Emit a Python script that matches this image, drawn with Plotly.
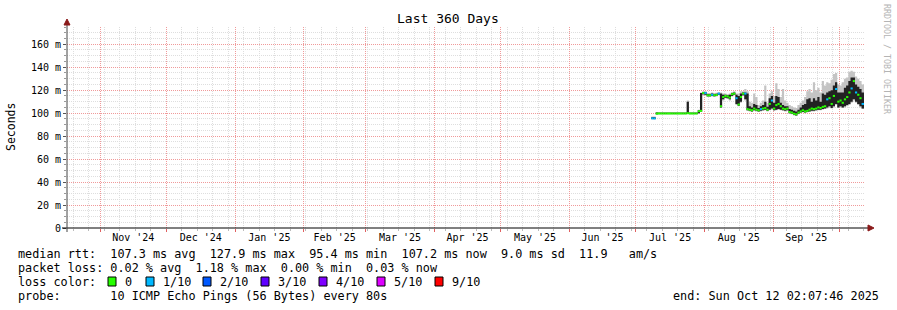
import plotly.graph_objects as go
import pandas as pd

# ---------------- data (in ms) ----------------
START = "2024-10-17 02:07:46"
END = "2025-10-12 02:07:46"
FIRST_DAY = "2025-07-08"

median = [
    95.5, 95.4, 99.6, 99.7, 99.7, 99.7, 99.7, 99.7,      # Jul 08-15
    99.7, 99.7, 99.7, 99.7, 99.7, 99.7, 99.7, 99.7,      # Jul 16-23
    100.0, 99.7, 99.7, 99.7, 99.7, 101.7, 102.0, 117.5,  # Jul 24-31
    117.5, 115.5, 115.5, 116.0, 115.6, 115.8, 117.0, 106.0,  # Aug 01-08
    114.0, 115.0, 114.5, 113.5, 116.5, 117.0, 113.0, 107.5,  # Aug 09-16
    114.0, 117.0, 117.0, 103.5, 103.0, 102.5, 104.0, 103.0,  # Aug 17-24
    102.5, 103.5, 104.0, 104.5, 103.0, 108.0, 111.0, 104.0,  # Aug 25-Sep 01
    107.0, 108.0, 106.0, 104.0, 103.5, 104.0, 101.0, 100.5,  # Sep 02-09
    99.5, 99.0, 100.5, 101.5, 102.5, 101.5, 102.0, 103.0,    # Sep 10-17
    104.0, 103.5, 104.0, 105.0, 104.5, 105.5, 106.0, 112.0,  # Sep 18-25
    113.0, 108.0, 115.0, 121.0, 110.0, 111.0, 109.0, 112.0,  # Sep 26-Oct 03
    114.0, 118.0, 121.5, 127.9, 118.0, 116.0, 113.0, 108.0,  # Oct 04-11
]
dense_lo = [
    95.0, 95.0, 99.0, 99.2, 99.2, 99.2, 99.2, 99.2,
    99.2, 99.2, 99.2, 99.2, 99.2, 99.2, 99.2, 99.2,
    99.2, 99.2, 99.2, 99.2, 99.2, 100.0, 101.5, 116.5,
    116.0, 114.8, 114.8, 115.0, 114.8, 115.0, 116.0, 105.0,
    112.0, 113.5, 113.0, 112.0, 115.0, 116.0, 108.0, 106.5,
    110.0, 115.5, 112.0, 102.5, 102.0, 101.5, 102.5, 102.0,
    101.5, 102.0, 102.5, 103.0, 102.0, 103.0, 104.0, 102.5,
    103.0, 103.5, 103.0, 102.5, 102.0, 102.5, 100.0, 99.5,
    98.5, 98.0, 99.5, 100.5, 101.0, 100.5, 101.0, 101.5,
    102.0, 102.0, 102.5, 103.0, 103.0, 103.5, 104.0, 105.0,
    106.0, 104.5, 106.0, 108.0, 105.0, 106.0, 105.0, 106.0,
    107.0, 108.0, 110.0, 112.0, 110.0, 108.0, 106.0, 104.0,
]
dense_hi = [
    96.5, 96.5, 100.5, 100.3, 100.3, 100.3, 100.3, 100.3,
    100.3, 100.3, 100.3, 100.3, 100.3, 100.3, 100.3, 100.3,
    110.0, 100.3, 100.3, 100.3, 100.3, 102.5, 117.5, 118.0,
    118.5, 116.5, 116.5, 117.0, 116.5, 116.8, 117.5, 117.0,
    116.0, 116.0, 115.5, 116.0, 117.5, 118.0, 116.0, 115.0,
    117.0, 118.0, 118.0, 117.0, 106.0, 105.0, 108.0, 107.0,
    104.5, 106.0, 107.0, 110.0, 105.5, 113.0, 115.0, 109.0,
    115.0, 114.0, 109.0, 107.0, 106.0, 106.0, 103.5, 103.0,
    102.0, 101.5, 103.0, 105.0, 107.0, 108.0, 112.0, 113.0,
    110.0, 113.0, 111.0, 114.0, 110.0, 117.0, 116.0, 118.0,
    119.0, 120.0, 124.0, 127.0, 118.0, 118.0, 118.0, 122.0,
    124.0, 128.0, 131.0, 131.0, 125.0, 123.0, 121.0, 118.0,
]
smoke_lo = [
    94.5, 94.5, 98.5, 98.8, 98.8, 98.8, 98.8, 98.8,
    98.8, 98.8, 98.8, 98.8, 98.8, 98.8, 98.8, 98.8,
    99.0, 98.8, 98.8, 98.8, 98.8, 99.5, 101.0, 115.5,
    115.5, 114.0, 114.0, 114.5, 114.0, 114.5, 115.5, 104.5,
    111.0, 113.0, 112.5, 111.0, 114.5, 115.5, 107.0, 106.0,
    109.0, 115.0, 111.0, 102.0, 101.5, 101.0, 102.0, 101.5,
    101.0, 101.5, 102.0, 102.5, 101.5, 102.5, 103.0, 102.0,
    102.5, 103.0, 102.5, 102.0, 101.5, 102.0, 99.5, 99.0,
    98.0, 97.5, 99.0, 100.0, 100.5, 100.0, 100.5, 101.0,
    101.5, 101.5, 102.0, 102.5, 102.5, 103.0, 103.5, 104.0,
    105.0, 104.0, 105.0, 107.0, 104.5, 105.0, 104.5, 105.0,
    106.0, 107.0, 109.0, 111.0, 109.0, 107.0, 105.0, 103.5,
]
smoke_hi = [
    97.0, 97.0, 101.0, 101.0, 101.0, 101.0, 101.0, 101.0,
    101.0, 101.0, 101.0, 101.0, 101.0, 101.0, 101.0, 101.0,
    111.0, 101.0, 101.0, 101.0, 101.0, 103.0, 118.0, 119.0,
    119.0, 117.5, 117.5, 118.0, 117.5, 117.8, 118.5, 118.0,
    117.0, 117.0, 116.5, 117.0, 118.5, 119.0, 117.0, 117.0,
    119.0, 119.0, 121.0, 119.0, 110.0, 109.0, 117.0, 114.0,
    107.0, 109.0, 111.0, 124.0, 109.0, 117.0, 119.0, 115.0,
    126.0, 121.0, 114.0, 121.0, 111.0, 109.0, 107.0, 106.0,
    105.0, 104.5, 107.0, 109.0, 111.0, 114.0, 119.0, 121.0,
    118.0, 127.0, 120.0, 122.0, 118.0, 128.0, 124.0, 127.0,
    126.0, 129.0, 134.0, 135.0, 125.0, 124.0, 127.0, 130.0,
    131.0, 136.0, 137.0, 136.0, 132.0, 130.0, 128.0, 125.0,
]
loss = [
    1, 1, 0, 0, 0, 0, 0, 0,
    0, 0, 0, 0, 0, 0, 0, 0,
    0, 0, 0, 0, 0, 0, 0, 0,
    1, 0, 0, 1, 0, 0, 1, 0,
    0, 0, 0, 0, 0, 0, 1, 0,
    0, 0, 1, 0, 0, 0, 0, 0,
    0, 1, 0, 0, 0, 0, 1, 0,
    0, 0, 0, 0, 0, 0, 0, 0,
    0, 0, 0, 0, 0, 0, 0, 0,
    0, 0, 0, 0, 0, 0, 0, 1,
    0, 0, 0, 1, 0, 0, 0, 0,
    0, 0, 1, 0, 1, 0, 0, 1,
]

y_tick_vals = [0, 20, 40, 60, 80, 100, 120, 140, 160]
y_tick_text = ["0", "20 m", "40 m", "60 m", "80 m", "100 m", "120 m", "140 m", "160 m"]

loss_levels = [0, 1, 2, 3, 4, 5, 9]
loss_labels = ["0", "1/10", "2/10", "3/10", "4/10", "5/10", "9/10"]
loss_colors = ["#26ff00", "#00b8ff", "#0059ff", "#5e00ff", "#7e00ff", "#dd00ff", "#ff0000"]

legend_lines = [
    "median rtt:  107.3 ms avg  127.9 ms max  95.4 ms min  107.2 ms now  9.0 ms sd  11.9   am/s",
    "packet loss: 0.02 % avg  1.18 % max  0.00 % min  0.03 % now",
    "loss color:",
    "probe:       10 ICMP Echo Pings (56 Bytes) every 80s",
]
end_text = "end: Sun Oct 12 02:07:46 2025"
title_text = "Last 360 Days"

# ---------------- geometry ----------------
W, H = 897, 310
L, R, T, B = 67, 33, 27, 82
PW, PH = W - L - R, H - T - B


def px(x):
    return (x - L) / PW


def py(y):
    return (H - B - y) / PH


FONT = "DejaVu Sans Mono"

dates = list(pd.date_range(FIRST_DAY, periods=len(median), freq="D"))
xs = dates + [pd.Timestamp(END)]


def ext(a):
    return list(a) + [a[-1]]


fig = go.Figure()


def band(lo, hi, color):
    fig.add_trace(go.Scatter(x=xs, y=ext(lo), mode="lines",
                             line=dict(width=0, shape="hv"),
                             hoverinfo="skip", showlegend=False))
    fig.add_trace(go.Scatter(x=xs, y=ext(hi), mode="lines",
                             line=dict(width=0, shape="hv"),
                             fill="tonexty", fillcolor=color,
                             hoverinfo="skip", showlegend=False))


band(smoke_lo, smoke_hi, "#c4c4c4")
band(dense_lo, dense_hi, "#222222")

for lvl, col in zip(loss_levels, loss_colors):
    sx, sy = [], []
    for i, v in enumerate(median):
        if loss[i] == lvl:
            sx += [xs[i], xs[i + 1], None]
            sy += [v, v, None]
    if sx:
        fig.add_trace(go.Scatter(x=sx, y=sy, mode="lines",
                                 line=dict(color=col, width=2),
                                 hoverinfo="skip", showlegend=False))

# invisible trace so the month axis (x2) is rendered
fig.add_trace(go.Scatter(x=[START, END], y=[None, None], xaxis="x2", mode="lines",
                         hoverinfo="skip", showlegend=False))

ann = []
ann.append(dict(text=title_text, x=px(448), y=py(19), xanchor="center", yanchor="middle",
                font=dict(size=13, color="#000")))
ann.append(dict(text="Seconds", x=px(11), y=py(127), xanchor="center", yanchor="middle",
                textangle=-90, font=dict(size=11.5, color="#000")))
ann.append(dict(text="RRDTOOL / TOBI OETIKER", x=px(887), y=py(59), xanchor="center",
                yanchor="middle", textangle=90, font=dict(size=8.3, color="#b4b4b4")))
for txt, yy in zip(legend_lines, [254, 268, 282, 296]):
    ann.append(dict(text=txt.replace(" ", "\u00a0"), x=px(16), y=py(yy), xanchor="left",
                    yanchor="middle", font=dict(size=11.8, color="#000")))
ann.append(dict(text=end_text.replace(" ", "\u00a0"), x=px(881), y=py(296), xanchor="right",
                yanchor="middle", font=dict(size=11.8, color="#000")))

shapes = []
sw_x = [108, 146, 203, 261, 319, 377, 435]
for i, (lab, col) in enumerate(zip(loss_labels, loss_colors)):
    x0 = sw_x[i]
    shapes.append(dict(type="rect", xref="paper", yref="paper",
                       x0=px(x0), x1=px(x0 + 8), y0=py(286), y1=py(277),
                       fillcolor=col, line=dict(color="#000", width=1), layer="above"))
    ann.append(dict(text=lab, x=px(x0 + 15), y=py(282), xanchor="left", yanchor="middle",
                    font=dict(size=11.8, color="#000")))

# axis lines and arrows
shapes.append(dict(type="line", xref="paper", yref="paper", x0=px(62), x1=px(869),
                   y0=py(228), y1=py(228), line=dict(color="#000", width=1), layer="above"))
shapes.append(dict(type="line", xref="paper", yref="paper", x0=px(67), x1=px(67),
                   y0=py(232), y1=py(23), line=dict(color="#444", width=1), layer="above"))


def tri(pts):
    p = "M " + " L ".join(f"{px(a):.5f},{py(b):.5f}" for a, b in pts) + " Z"
    return p


shapes.append(dict(type="path", xref="paper", yref="paper",
                   path=tri([(64, 25), (70, 25), (67, 19)]),
                   fillcolor="#8b1a1a", line=dict(color="#8b1a1a", width=1), layer="above"))
shapes.append(dict(type="path", xref="paper", yref="paper",
                   path=tri([(868, 225), (868, 231), (874, 228)]),
                   fillcolor="#8b1a1a", line=dict(color="#8b1a1a", width=1), layer="above"))

for a in ann:
    a.update(xref="paper", yref="paper", showarrow=False)
    a.setdefault("font", {})
    a["font"]["family"] = FONT

RED_GRID = "#f09a9a"
GRAY_GRID = "#dedede"

fig.update_layout(
    width=W, height=H,
    margin=dict(l=L, r=R, t=T, b=B, pad=0),
    paper_bgcolor="#fff", plot_bgcolor="#fff",
    showlegend=False,
    font=dict(family=FONT, size=10, color="#000"),
    annotations=ann, shapes=shapes,
    # weekly grid (gray)
    xaxis=dict(
        type="date", range=[START, END],
        tick0="2024-10-20", dtick=7 * 86400000,
        showticklabels=False,
        showgrid=True, gridcolor=GRAY_GRID, griddash="1px,1px", gridwidth=1,
        ticks="outside", ticklen=2, tickcolor="#bbbbbb",
        showline=False, zeroline=False,
    ),
    # monthly grid (red) + labels centred in each month
    xaxis2=dict(
        type="date", range=[START, END], overlaying="x", side="bottom",
        tick0="2024-11-01", dtick="M1", ticklabelmode="period", tickformat="%b '%y",
        showgrid=True, gridcolor=RED_GRID, griddash="1px,1px", gridwidth=1,
        ticks="outside", ticklen=3, tickcolor="#e06060",
        ticklabelstandoff=-3,
        showline=False, zeroline=False,
        tickfont=dict(family=FONT, size=10, color="#000"),
    ),
    yaxis=dict(
        range=[0, 175], tickvals=y_tick_vals, ticktext=y_tick_text,
        showgrid=True, gridcolor=RED_GRID, griddash="1px,1px", gridwidth=1,
        ticks="outside", ticklen=3, tickcolor="#555",
        showline=False, zeroline=False,
        tickfont=dict(family=FONT, size=10, color="#000"),
        minor=dict(dtick=5, tick0=0, showgrid=True, gridcolor=GRAY_GRID, griddash="1px,1px",
                   ticks="outside", ticklen=2, tickcolor="#999"),
    ),
)

fig.write_html("out.html")
